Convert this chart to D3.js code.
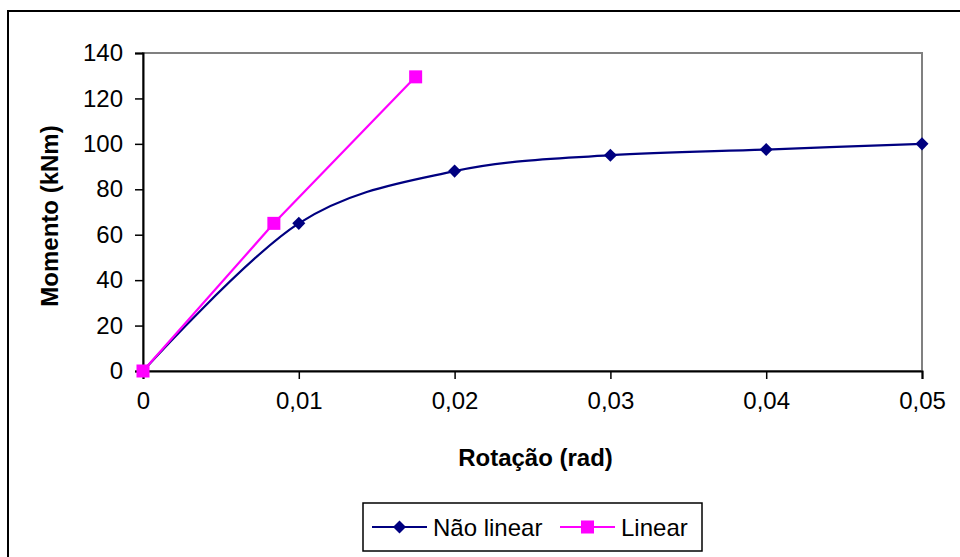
<!DOCTYPE html>
<html>
<head>
<meta charset="utf-8">
<script src="https://cdn.jsdelivr.net/npm/d3@7"></script>
<style>
  html, body { margin: 0; padding: 0; background: #fff; }
  svg { display: block; font-family: "Liberation Sans", Arial, sans-serif; }
</style>
</head>
<body>
<svg id="chart" width="960" height="557"></svg>
<script>
// Moment-rotation data
const naoLinearRot = [0, 0.01, 0.02, 0.03, 0.04, 0.05];
const naoLinearMom = [0, 65, 88, 95, 97.5, 100];
const linearRot = [0, 0.0084, 0.0175];
const linearMom = [0, 65, 129.5];

const xTicks = [0, 0.01, 0.02, 0.03, 0.04, 0.05];
const yTicks = [0, 20, 40, 60, 80, 100, 120, 140];

const seriesNames = ["Não linear", "Linear"];
const xTitle = "Rotação (rad)";
const yTitle = "Momento (kNm)";

const svg = d3.select("#chart");
const W = 960, H = 557;
const plot = { left: 143, top: 53, right: 922, bottom: 371 };

const x = d3.scaleLinear().domain([0, 0.05]).range([plot.left, plot.right]);
const y = d3.scaleLinear().domain([0, 140]).range([plot.bottom, plot.top]);

// outer chart frame
svg.append("rect")
  .attr("x", 8).attr("y", 11)
  .attr("width", W + 20).attr("height", H + 20)
  .attr("fill", "#fff").attr("stroke", "#000").attr("stroke-width", 2);

// plot area frame (top and right sides in grey)
svg.append("rect")
  .attr("x", plot.left).attr("y", plot.top)
  .attr("width", plot.right - plot.left).attr("height", plot.bottom - plot.top)
  .attr("fill", "#fff").attr("stroke", "#808080").attr("stroke-width", 2);

const fmt = d => d === 0 ? "0" : d3.format(".2f")(d).replace(".", ",");

// Y axis
const yAxis = svg.append("g")
  .attr("transform", `translate(${plot.left},0)`)
  .call(d3.axisLeft(y).tickValues(yTicks).tickSize(8).tickPadding(12).tickFormat(d3.format("d")));
yAxis.select(".domain").attr("stroke", "#000").attr("stroke-width", 2);
yAxis.selectAll(".tick line").attr("stroke", "#000").attr("stroke-width", 1.5);
yAxis.selectAll(".tick text").attr("font-size", 24).attr("fill", "#000")
  .attr("font-family", "Liberation Sans, Arial, sans-serif");

// X axis
const xAxis = svg.append("g")
  .attr("transform", `translate(0,${plot.bottom})`)
  .call(d3.axisBottom(x).tickValues(xTicks).tickSize(8).tickPadding(13).tickFormat(fmt));
xAxis.select(".domain").attr("stroke", "#000").attr("stroke-width", 2);
xAxis.selectAll(".tick line").attr("stroke", "#000").attr("stroke-width", 1.5);
xAxis.selectAll(".tick text").attr("font-size", 24).attr("fill", "#000")
  .attr("font-family", "Liberation Sans, Arial, sans-serif");

// axis titles
svg.append("text")
  .attr("x", (plot.left + plot.right) / 2 + 3).attr("y", 466)
  .attr("text-anchor", "middle").attr("font-size", 24).attr("font-weight", "bold")
  .text(xTitle);
svg.append("text")
  .attr("transform", `translate(58,${(plot.top + plot.bottom) / 2 + 4}) rotate(-90)`)
  .attr("text-anchor", "middle").attr("font-size", 24).attr("font-weight", "bold")
  .text(yTitle);

// series
const nl = naoLinearRot.map((r, i) => ({ r, m: naoLinearMom[i] }));
const li = linearRot.map((r, i) => ({ r, m: linearMom[i] }));

const smooth = d3.line().x(d => x(d.r)).y(d => y(d.m)).curve(d3.curveCardinal.tension(0));
const straight = d3.line().x(d => x(d.r)).y(d => y(d.m));

const navy = "#000080", pink = "#FF00FF";

svg.append("path").datum(nl).attr("d", smooth)
  .attr("fill", "none").attr("stroke", navy).attr("stroke-width", 2.2);
svg.append("path").datum(li).attr("d", straight)
  .attr("fill", "none").attr("stroke", pink).attr("stroke-width", 2.2);

const diamond = d3.symbol().type(d3.symbolSquare).size(85);
svg.append("g").selectAll("path").data(nl).join("path")
  .attr("d", diamond)
  .attr("transform", d => `translate(${x(d.r)},${y(d.m)}) rotate(45)`)
  .attr("fill", navy);

svg.append("g").selectAll("rect").data(li).join("rect")
  .attr("x", d => x(d.r) - 6.5).attr("y", d => y(d.m) - 6.5)
  .attr("width", 13).attr("height", 13)
  .attr("fill", pink);

// legend
const lg = svg.append("g");
lg.append("rect")
  .attr("x", 363).attr("y", 503).attr("width", 339).attr("height", 48)
  .attr("fill", "#fff").attr("stroke", "#000").attr("stroke-width", 1.5);

const ly = 527;
lg.append("line").attr("x1", 372).attr("x2", 427).attr("y1", ly).attr("y2", ly)
  .attr("stroke", navy).attr("stroke-width", 2.2);
lg.append("path").attr("d", diamond)
  .attr("transform", `translate(399.5,${ly}) rotate(45)`).attr("fill", navy);
lg.append("text").attr("x", 433).attr("y", ly + 8.5)
  .attr("font-size", 24).text(seriesNames[0]);

lg.append("line").attr("x1", 560).attr("x2", 615).attr("y1", ly).attr("y2", ly)
  .attr("stroke", pink).attr("stroke-width", 2.2);
lg.append("rect").attr("x", 581).attr("y", ly - 6.5).attr("width", 13).attr("height", 13)
  .attr("fill", pink);
lg.append("text").attr("x", 621).attr("y", ly + 8.5)
  .attr("font-size", 24).text(seriesNames[1]);
</script>
</body>
</html>
